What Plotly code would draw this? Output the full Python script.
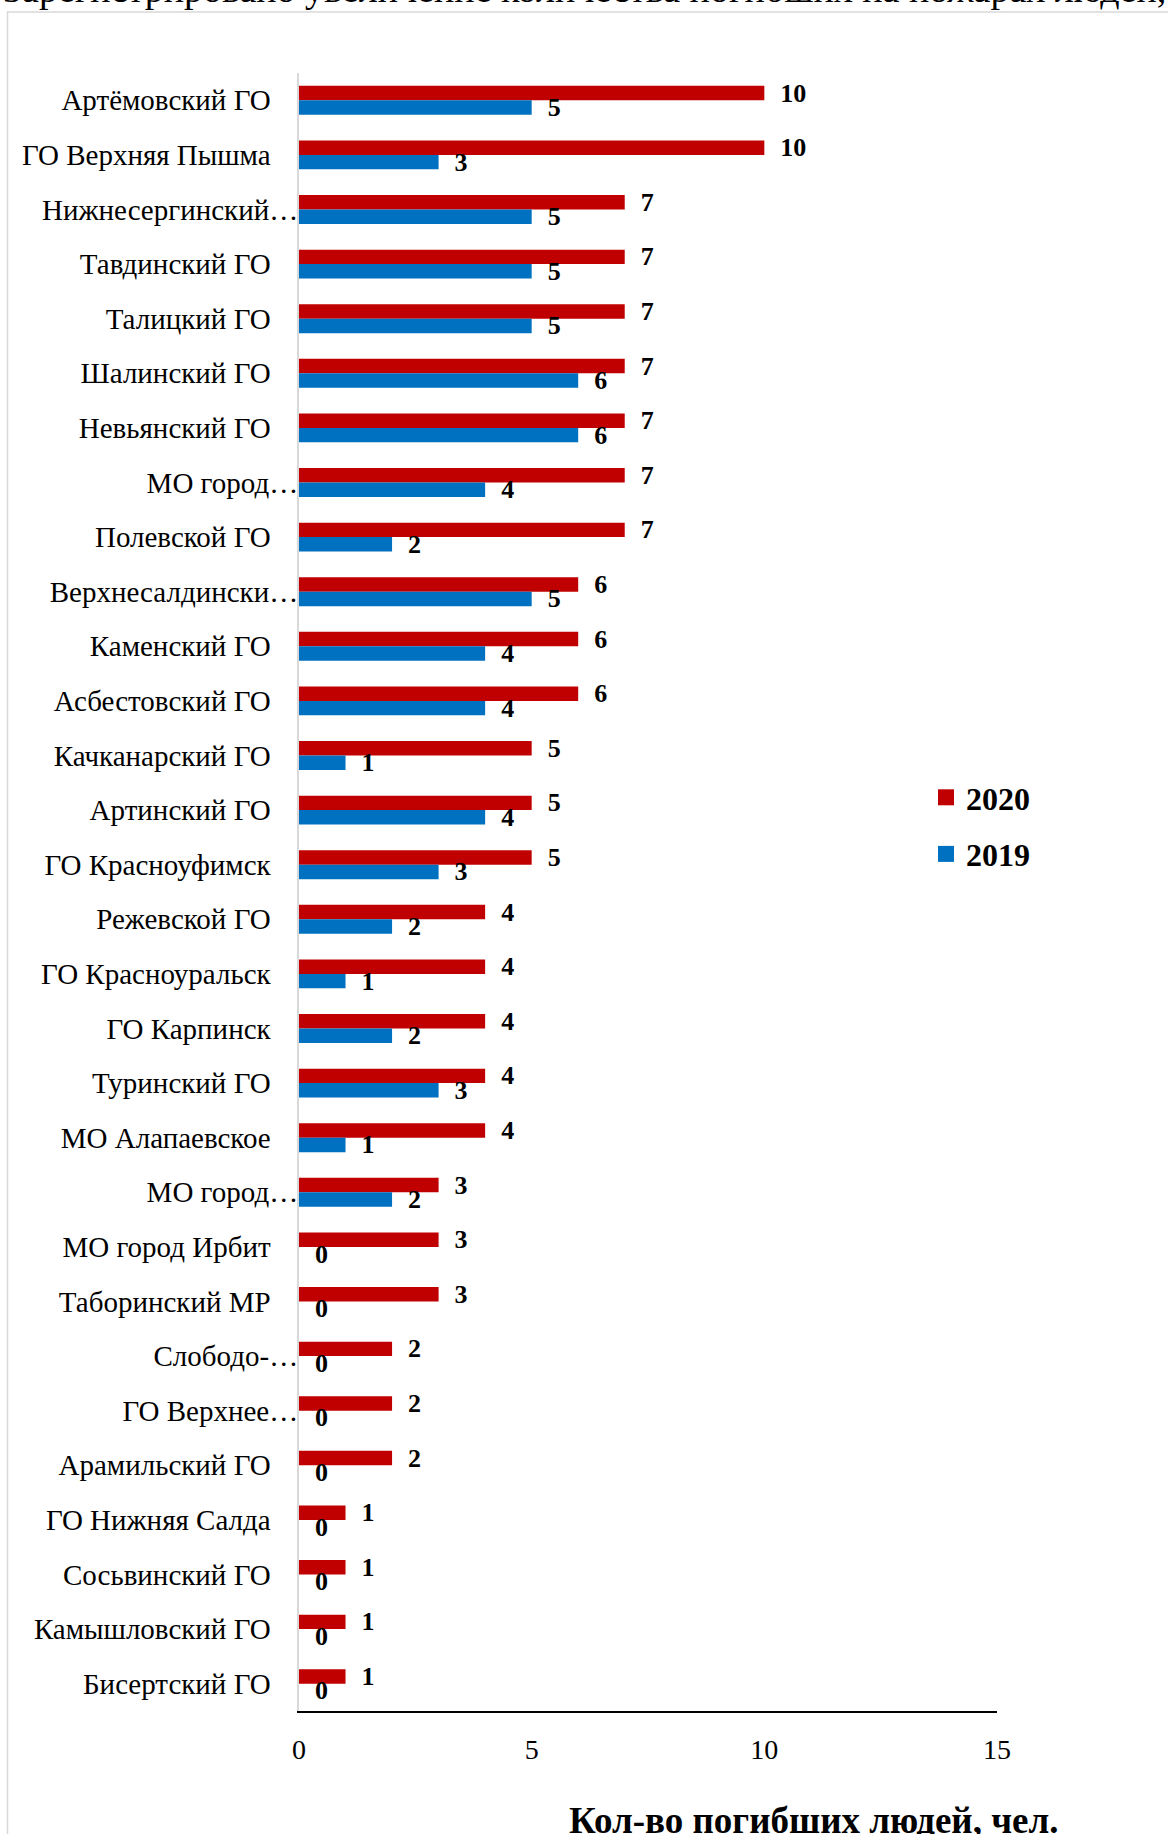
import plotly.graph_objects as go

# ---------------- data ----------------
categories = [
    "Артёмовский ГО", "ГО Верхняя Пышма", "Нижнесергинский…", "Тавдинский ГО",
    "Талицкий ГО", "Шалинский ГО", "Невьянский ГО", "МО город…", "Полевской ГО",
    "Верхнесалдински…", "Каменский ГО", "Асбестовский ГО", "Качканарский ГО",
    "Артинский ГО", "ГО Красноуфимск", "Режевской ГО", "ГО Красноуральск",
    "ГО Карпинск", "Туринский ГО", "МО Алапаевское", "МО город…", "МО город Ирбит",
    "Таборинский МР", "Слободо-…", "ГО Верхнее…", "Арамильский ГО",
    "ГО Нижняя Салда", "Сосьвинский ГО", "Камышловский ГО", "Бисертский ГО",
]
values_2020 = [10, 10, 7, 7, 7, 7, 7, 7, 7, 6, 6, 6, 5, 5, 5, 4, 4, 4, 4, 4,
               3, 3, 3, 2, 2, 2, 1, 1, 1, 1]
values_2019 = [5, 3, 5, 5, 5, 6, 6, 4, 2, 5, 4, 4, 1, 4, 3, 2, 1, 2, 3, 1,
               2, 0, 0, 0, 0, 0, 0, 0, 0, 0]
series_names = ["2020", "2019"]
x_ticks = [0, 5, 10, 15]
x_title = "Кол-во погибших людей, чел."
top_text = "Зарегистрировано увеличение количества погибших на пожарах людей,"

# ---------------- layout geometry ----------------
W, H = 1168, 1834
PLOT_X0, PLOT_X1 = 299, 997  # pixel coordinates of the plot area
PLOT_Y0, PLOT_Y1 = 73, 1711
L, T = PLOT_X0, PLOT_Y0
R, B = W - PLOT_X1, H - PLOT_Y1
PW, PH = W - L - R, H - T - B


def px_x(x):
    return (x - L) / PW


def px_y(y):
    return (H - B - y) / PH


FONT = "Liberation Serif, 'Times New Roman', serif"
colors = {"2020": "#C00000", "2019": "#0070C0"}
pos = list(range(len(categories)))

fig = go.Figure()
for name, vals in zip(series_names, [values_2020, values_2019]):
    fig.add_trace(go.Bar(
        y=pos, x=vals, orientation="h", name=name,
        marker=dict(color=colors[name], line=dict(width=0)),
        texttemplate="\u00a0\u00a0%{x}", textposition="outside",
        textfont=dict(family=FONT, size=26, color="black", weight="bold"),
        constraintext="none", cliponaxis=False, showlegend=False,
        hoverinfo="x+y",
    ))
# legend entries (square swatches)
for name in series_names:
    fig.add_trace(go.Scatter(
        x=[None], y=[None], mode="markers", name=name, legendgroup=name,
        marker=dict(symbol="square", size=16, color=colors[name]),
        showlegend=True, hoverinfo="skip",
    ))

ticktext = [c if c.endswith("…") else c + "\u00a0" * 3 + "\u2009" for c in categories]

fig.update_layout(
    width=W, height=H,
    margin=dict(l=L, r=R, t=T, b=B, pad=0),
    paper_bgcolor="white", plot_bgcolor="white",
    barmode="group", bargap=0.47, bargroupgap=0,
    font=dict(family=FONT, size=29, color="black"),
    showlegend=True,
    legend=dict(
        x=px_x(926), y=px_y(826), xanchor="left", yanchor="middle",
        font=dict(family=FONT, size=32, color="black", weight="bold"),
        traceorder="grouped", tracegroupgap=12,
        bgcolor="rgba(0,0,0,0)",
    ),
    xaxis=dict(
        range=[0, 15], tickvals=x_ticks, showgrid=False, zeroline=False,
        showline=True, linecolor="black", linewidth=2, ticks="",
        tickfont=dict(family=FONT, size=28, color="black"),
        ticklabelstandoff=12, automargin=False,
    ),
    yaxis=dict(
        range=[len(categories) - 0.5, -0.5], tickvals=pos, ticktext=ticktext,
        showgrid=False, zeroline=False, showline=True, linecolor="#d9d9d9",
        linewidth=2, ticks="", tickfont=dict(family=FONT, size=29, color="black"),
        ticklabelstandoff=-7, automargin=False,
    ),
    annotations=[
        dict(text=x_title, x=px_x(813), y=px_y(1820), xref="paper", yref="paper",
             xanchor="center", yanchor="middle", showarrow=False,
             font=dict(family=FONT, size=37, color="black", weight="bold")),
        dict(text=top_text, x=px_x(1168), y=px_y(12), xref="paper", yref="paper",
             xanchor="right", yanchor="bottom", showarrow=False,
             font=dict(family=FONT, size=38, color="black")),
    ],
    shapes=[
        dict(type="rect", xref="paper", yref="paper",
             x0=px_x(7.5), x1=px_x(1300), y0=px_y(12), y1=px_y(1950),
             line=dict(color="#d9d9d9", width=1.5), fillcolor="rgba(0,0,0,0)",
             layer="below"),
    ],
)

fig.write_html("out.html", config={"displayModeBar": False},
               post_script="document.body.style.margin='0';")
